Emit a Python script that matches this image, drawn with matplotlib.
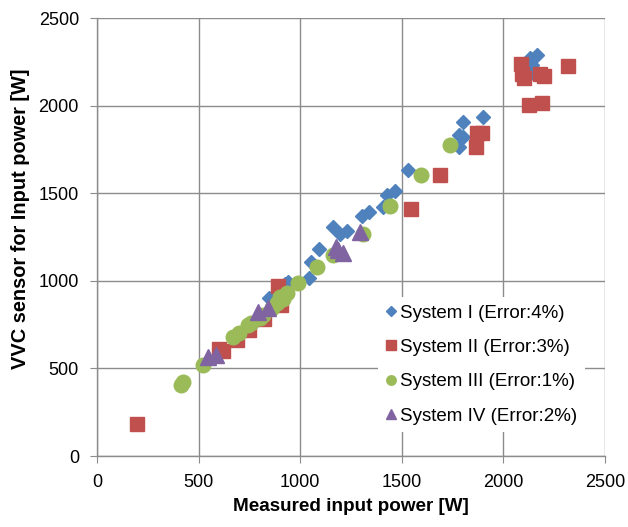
import matplotlib
matplotlib.use("Agg")
import matplotlib.pyplot as plt

plt.rcParams['font.family'] = ['Liberation Sans', 'DejaVu Sans']

# System I (Error:4%)
sys1_x = [2165, 2130, 2140, 2150, 2120, 1800, 1900, 1780, 1800, 1780,
          1530, 1465, 1425, 1405, 1340, 1305, 1160, 1230, 1195, 1090,
          1055, 1045, 925, 940, 845]
sys1_y = [2290, 2270, 2230, 2190, 2170, 1905, 1935, 1830, 1820, 1765,
          1630, 1515, 1490, 1420, 1395, 1370, 1305, 1285, 1270, 1180,
          1110, 1015, 980, 995, 900]

# System II (Error:3%)
sys2_x = [2085, 2090, 2100, 2180, 2200, 2320, 2125, 2190, 1893, 1870,
          1865, 1688, 1545, 890, 905, 820, 750, 690, 620, 600, 195]
sys2_y = [2240, 2180, 2160, 2180, 2170, 2225, 2005, 2015, 1845, 1843,
          1762, 1605, 1412, 970, 860, 780, 720, 660, 600, 610, 185]

# System III (Error:1%)
sys3_x = [1737, 1593, 1442, 1309, 1161, 1083, 989, 935, 915, 884,
          860, 817, 743, 669, 522, 423, 415, 700, 760, 800, 900]
sys3_y = [1775, 1605, 1427, 1268, 1150, 1078, 988, 932, 895, 873,
          845, 805, 745, 679, 519, 420, 408, 700, 760, 790, 910]

# System IV (Error:2%)
sys4_x = [545, 585, 790, 840, 1175, 1185, 1210, 1295]
sys4_y = [565, 575, 822, 847, 1195, 1178, 1160, 1276]

labels = ["System I (Error:4%)", "System II (Error:3%)",
          "System III (Error:1%)", "System IV (Error:2%)"]
colors = ["#4F81BD", "#C0504D", "#9BBB59", "#8064A2"]

fig = plt.figure(figsize=(6.28, 5.27), dpi=100)
ax = fig.add_axes([0.1545, 0.1347, 0.8089, 0.8311])

ax.plot(sys1_x, sys1_y, linestyle='none', marker='D', ms=7.2,
        color=colors[0], mec=colors[0], label=labels[0], zorder=3)
ax.plot(sys2_x, sys2_y, linestyle='none', marker='s', ms=10.5,
        color=colors[1], mec=colors[1], label=labels[1], zorder=4)
ax.plot(sys3_x, sys3_y, linestyle='none', marker='o', ms=10.5,
        color=colors[2], mec=colors[2], label=labels[2], zorder=5)
ax.plot(sys4_x, sys4_y, linestyle='none', marker='^', ms=11,
        color=colors[3], mec=colors[3], label=labels[3], zorder=6)

ax.set_xlim(0, 2500)
ax.set_ylim(0, 2500)
ax.set_xticks(range(0, 2501, 500))
ax.set_yticks(range(0, 2501, 500))
ax.grid(True, color='#8C8C8C', linewidth=1.0, zorder=0)
ax.set_axisbelow(True)
for side in ['top', 'right']:
    ax.spines[side].set_visible(False)
for side in ['left', 'bottom']:
    ax.spines[side].set_color('#8C8C8C')
    ax.spines[side].set_linewidth(1.0)
ax.tick_params(axis='both', direction='out', length=5, color='#8C8C8C',
               labelsize=13, pad=8)

ax.set_xlabel("Measured input power [W]", fontsize=13.6, fontweight='bold', labelpad=5)
fig.text(21 / 628, 1 - 219 / 527, "VVC sensor for Input power [W]", rotation=90,
         ha='center', va='center', fontsize=14.4, fontweight='bold')

leg = ax.legend(loc='upper left', bbox_to_anchor=(378 / 628, 1 - 297 / 527),
                bbox_transform=fig.transFigure, fontsize=13.5, frameon=True,
                fancybox=False, edgecolor='none', facecolor='white', framealpha=1,
                markerscale=0.65, handlelength=0.6, handletextpad=0.2,
                labelspacing=0.92, borderpad=0.4, borderaxespad=0)
leg.set_zorder(10)

fig.savefig("out.png", dpi=100)
